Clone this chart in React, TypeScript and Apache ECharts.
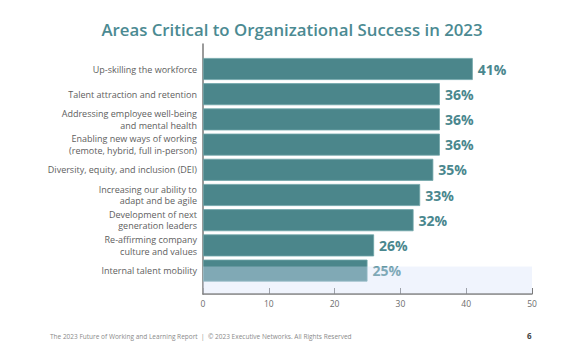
import React, { useEffect, useRef } from "react";
import * as echarts from "echarts";

const categories = [
  "Up-skilling the workforce",
  "Talent attraction and retention",
  "Addressing employee well-being\nand mental health",
  "Enabling new ways of working\n(remote, hybrid, full in-person)",
  "Diversity, equity, and inclusion (DEI)",
  "Increasing our ability to\nadapt and be agile",
  "Development of next\ngeneration leaders",
  "Re-affirming company\nculture and values",
  "Internal talent mobility",
];
const values = [41, 36, 36, 36, 35, 33, 32, 26, 25];
const xTicks = [0, 10, 20, 30, 40, 50];

const TITLE = "Areas Critical to Organizational Success in 2023";
const FOOTER = "The 2023 Future of Working and Learning Report  |  \u00A9 2023 Executive Networks. All Rights Reserved";
const PAGE = "6";

const TEAL = "#4b868b";
const FONT = "'Open Sans', 'Noto Sans', sans-serif";

export default function App() {
  const ref = useRef<HTMLDivElement>(null);
  useEffect(() => {
    document.body.style.margin = "0";
    const chart = echarts.init(ref.current!, null, { renderer: "svg" });
    chart.setOption({
      animation: false,
      backgroundColor: "#ffffff",
      title: {
        text: TITLE,
        left: "center",
        top: 16,
        textStyle: { color: "#4b8a92", fontSize: 16.8, fontWeight: 600, fontFamily: FONT },
      },
      grid: [
        { left: 203, right: 52, top: 56.4, height: 226.8 },
        { left: 203, right: 52, top: 44, height: 250 },
      ],
      xAxis: [
        { gridIndex: 0, type: "value", min: 0, max: 50, show: false },
        {
          gridIndex: 1,
          type: "value",
          min: xTicks[0],
          max: xTicks[xTicks.length - 1],
          interval: 10,
          axisLine: { show: true, lineStyle: { color: "#7a7a7a", width: 1.5 } },
          axisTick: { show: true, inside: true, length: 6, lineStyle: { color: "#7a7a7a", width: 1 } },
          axisLabel: { color: "#6d6d6d", fontSize: 8.5, fontFamily: FONT, margin: 5 },
          splitLine: { show: false },
        },
      ],
      yAxis: [
        {
          gridIndex: 0,
          type: "category",
          inverse: true,
          data: categories,
          axisLine: { show: false },
          axisTick: { show: false },
          axisLabel: { color: "#5e5e5e", fontSize: 9, lineHeight: 11.5, fontFamily: FONT, margin: 6, align: "right" },
        },
        {
          gridIndex: 1,
          type: "value",
          min: 0,
          max: 1,
          axisLine: { show: true, lineStyle: { color: "#7a7a7a", width: 1.5 } },
          axisTick: { show: false },
          axisLabel: { show: false },
          splitLine: { show: false },
        },
      ],
      series: [
        {
          type: "bar",
          xAxisIndex: 0,
          yAxisIndex: 0,
          data: values,
          barWidth: 22,
          itemStyle: { color: TEAL, borderColor: "#6ea4a8", borderWidth: 0.8 },
          label: {
            show: true,
            position: "right",
            distance: 5,
            formatter: "{c}%",
            color: "#4a878e",
            fontSize: 14,
            fontWeight: 700,
            fontFamily: FONT,
          },
        },
      ],
      graphic: [
        {
          type: "rect",
          z: 100,
          shape: { x: 203, y: 266.5, width: 329, height: 27 },
          style: { fill: "rgba(216,226,250,0.38)" },
        },
        {
          type: "text",
          x: 50,
          y: 332.5,
          style: { text: FOOTER, fill: "#8a8a8a", fontSize: 6.5, fontFamily: FONT, textVerticalAlign: "top" },
        },
        {
          type: "text",
          x: 527,
          y: 331,
          style: { text: PAGE, fill: "#444", fontSize: 8, fontWeight: 700, fontFamily: FONT, textVerticalAlign: "top" },
        },
      ],
    });
    return () => chart.dispose();
  }, []);
  return <div ref={ref} style={{ width: 584, height: 341 }} />;
}
